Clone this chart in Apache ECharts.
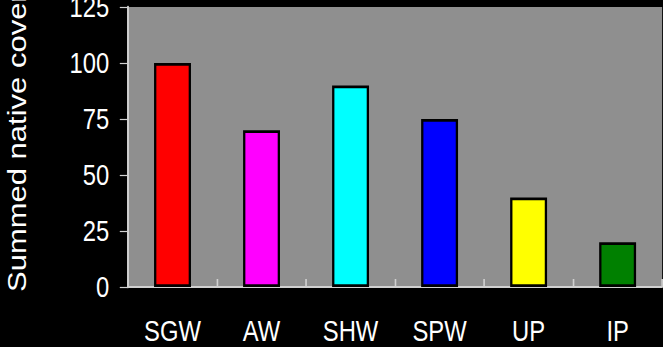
<!DOCTYPE html>
<html>
<head>
<meta charset="utf-8">
<script src="https://cdn.jsdelivr.net/npm/echarts@6/dist/echarts.min.js"></script>
<style>
  html, body { margin: 0; padding: 0; background: #000; overflow: hidden; }
  #wrap { width: 663px; height: 347px; overflow: hidden; }
  /* chart is laid out wide, then squeezed horizontally to the 663px frame */
  #chart { width: 808px; height: 347px; transform: scaleX(0.8205); transform-origin: 0 0; }
</style>
</head>
<body>
<div id="wrap"><div id="chart"></div></div>
<script>
// Habitat categories and summed native cover per habitat
const categories = ['SGW', 'AW', 'SHW', 'SPW', 'UP', 'IP'];
const coverValues = [100, 70, 90, 75, 40, 20];
const barColors = ['#ff0000', '#ff00ff', '#00ffff', '#0000ff', '#ffff00', '#008000'];
const yTicks = { min: 0, max: 125, interval: 25 };
const yTitle = 'Summed native cover (%)';

const font = '"Liberation Sans", Arial, sans-serif';
const axisGray = '#d0d0d0';

const chart = echarts.init(document.getElementById('chart'), null, { renderer: 'svg' });

chart.setOption({
  backgroundColor: '#000000',
  animation: false,
  grid: {
    left: 156, right: 1, top: 7, bottom: 60,
    containLabel: false, outerBoundsMode: 'none',
    show: true, backgroundColor: '#8f8f8f', borderWidth: 0
  },
  xAxis: {
    type: 'category',
    data: categories,
    axisLine: { lineStyle: { color: axisGray, width: 2 } },
    axisTick: { show: true, inside: true, length: 8, lineStyle: { color: axisGray, width: 2 } },
    axisLabel: { color: '#ffffff', fontSize: 29, lineHeight: 26, fontFamily: font, margin: 31, interval: 0 }
  },
  yAxis: {
    type: 'value',
    min: yTicks.min, max: yTicks.max, interval: yTicks.interval,
    splitLine: { show: false },
    axisLine: { show: true, lineStyle: { color: axisGray, width: 2.4 } },
    axisTick: { show: true, length: 10, lineStyle: { color: axisGray, width: 1.2 } },
    axisLabel: { color: '#ffffff', fontSize: 29, fontFamily: font, margin: 23 }
  },
  graphic: [{
    type: 'text',
    x: 21, y: 292,
    rotation: Math.PI / 2,
    style: {
      text: yTitle,
      fill: '#ffffff',
      font: '31px ' + font,
      textAlign: 'left',
      textVerticalAlign: 'middle'
    }
  }],
  series: [{
    type: 'bar',
    barWidth: 45,
    data: coverValues.map((v, i) => ({
      value: v,
      itemStyle: { color: barColors[i], borderColor: '#000000', borderWidth: 2.8 }
    }))
  }]
});
</script>
</body>
</html>
